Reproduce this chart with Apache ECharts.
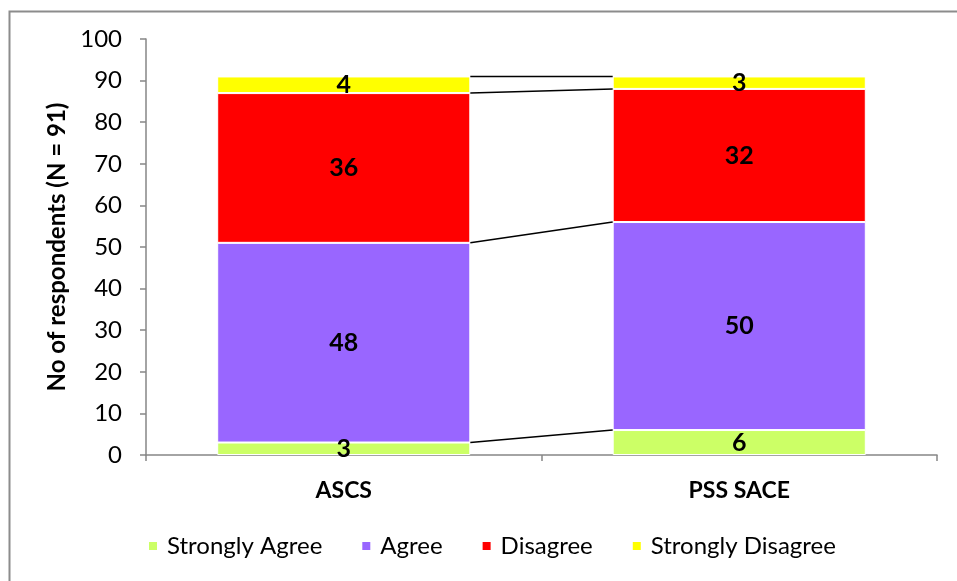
<!DOCTYPE html>
<html>
<head>
<meta charset="utf-8">
<script src="https://cdn.jsdelivr.net/npm/echarts@6/dist/echarts.min.js"></script>
<style>html,body{margin:0;padding:0;background:#fff;}#c{width:957px;height:581px;}</style>
</head>
<body>
<div id="c"></div>
<script>
var categories = ['ASCS', 'PSS SACE'];
var seriesNames = ['Strongly Agree', 'Agree', 'Disagree', 'Strongly Disagree'];
var stronglyAgree = [3, 6];
var agree = [48, 50];
var disagree = [36, 32];
var stronglyDisagree = [4, 3];
var colors = ['#ccff66', '#9966ff', '#ff0000', '#ffff00'];
var yTicks = [0, 10, 20, 30, 40, 50, 60, 70, 80, 90, 100];

var FONT = 'Lato, "Liberation Sans", sans-serif';
var BAR_FRAC = 0.64;
var allSeries = [stronglyAgree, agree, disagree, stronglyDisagree];

// cumulative tops for series lines
var cumLines = [];
var runA = 0, runB = 0;
for (var i = 0; i < allSeries.length; i++) {
  runA += allSeries[i][0];
  runB += allSeries[i][1];
  cumLines.push([runA, runB]);
}

var chart = echarts.init(document.getElementById('c'));
var series = seriesNames.map(function (n, i) {
  return {
    name: n,
    type: 'bar',
    stack: 'total',
    barWidth: (BAR_FRAC * 100) + '%',
    data: allSeries[i],
    itemStyle: { color: colors[i], borderColor: '#ffffff', borderWidth: 1 },
    label: {
      show: true, position: 'inside', color: '#000', fontFamily: FONT,
      fontWeight: 'bold', fontSize: 25
    },
    emphasis: { disabled: true },
    z: 2
  };
});
series.push({
  type: 'custom',
  name: 'seriesLines',
  data: cumLines,
  z: 3,
  silent: true,
  renderItem: function (params, api) {
    var a = api.value(0), b = api.value(1);
    var p1 = api.coord([0, a]);
    var p2 = api.coord([1, b]);
    var band = api.size([1, 0])[0];
    var half = band * BAR_FRAC / 2;
    return {
      type: 'line',
      shape: { x1: p1[0] + half, y1: p1[1], x2: p2[0] - half, y2: p2[1] },
      style: { stroke: '#000', lineWidth: 1.5 }
    };
  },
  encode: { x: -1, y: -1 }
});

chart.setOption({
  animation: false,
  backgroundColor: '#ffffff',
  graphic: [{
    type: 'rect', left: 7, top: 9, shape: { width: 1000, height: 700 },
    style: { fill: 'none', stroke: '#8c8c8c', lineWidth: 2 }, z: -1
  }],
  grid: { left: 146, right: 20, top: 39, bottom: 126 },
  legend: {
    data: seriesNames,
    bottom: 18,
    left: 142,
    itemWidth: 10, itemHeight: 10, itemGap: 38,
    icon: 'rect',
    textStyle: { fontFamily: FONT, fontSize: 24, color: '#000', padding: [0, 0, 0, 4] }
  },
  xAxis: {
    type: 'category',
    data: categories,
    axisLine: { lineStyle: { color: '#868686', width: 1.5 } },
    axisTick: { show: true, length: 6, lineStyle: { color: '#868686', width: 1.5 } },
    axisLabel: { fontFamily: FONT, fontWeight: 'bold', fontSize: 23, color: '#000', margin: 24 }
  },
  yAxis: {
    type: 'value',
    min: yTicks[0], max: yTicks[yTicks.length - 1], interval: 10,
    name: 'No of respondents (N = 91)',
    nameLocation: 'middle',
    nameGap: 74,
    nameTextStyle: { fontFamily: FONT, fontWeight: 'bold', fontSize: 24, color: '#000' },
    axisLine: { show: true, lineStyle: { color: '#868686', width: 1.5 } },
    axisTick: { show: true, length: 6, lineStyle: { color: '#868686', width: 1.5 } },
    splitLine: { show: false },
    axisLabel: { fontFamily: FONT, fontSize: 24, color: '#000', margin: 24 }
  },
  series: series
});
</script>
</body>
</html>
